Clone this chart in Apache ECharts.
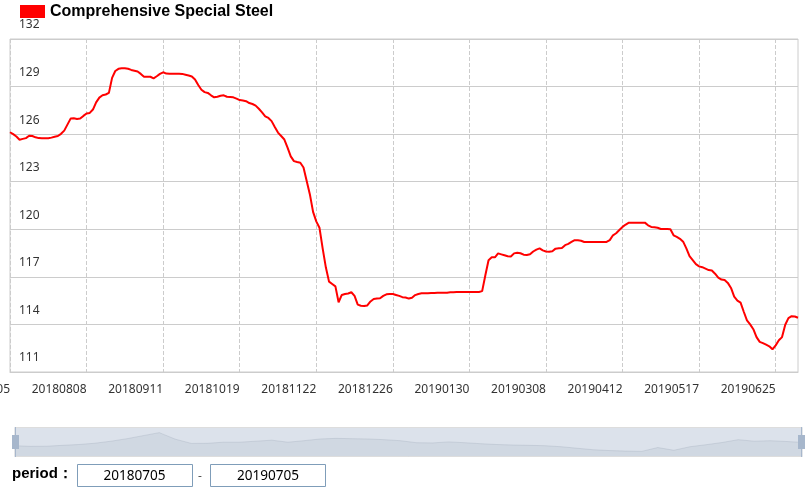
<!DOCTYPE html>
<html>
<head>
<meta charset="utf-8">
<script src="https://cdn.jsdelivr.net/npm/echarts@6/dist/echarts.min.js"></script>
<style>
html,body{margin:0;padding:0;background:#fff;}
#chart{width:807px;height:493px;}
</style>
</head>
<body>
<div id="chart"></div>
<script>
// ---- data ----
const seriesName = 'Comprehensive Special Steel';
const startDate = '20180705';
const periodStart = '20180705';
const periodEnd = '20190705';
// Chinese official working-day calendar used for the category labels
const holidays = ['20180924','20181001','20181002','20181003','20181004','20181005','20181231',
  '20190101','20190204','20190205','20190206','20190207','20190208','20190405',
  '20190501','20190502','20190503','20190607'];
const makeupWorkdays = ['20180929','20180930','20181229','20190202','20190203','20190428','20190505'];
const missingDates = ['20190603','20190604'];
const values = [
126.12,126.0,125.85,125.65,125.7,125.75,125.9,125.88,125.8,125.75,
125.74,125.74,125.74,125.78,125.84,125.88,126.02,126.22,126.6,126.98,
127.0,126.96,126.98,127.15,127.3,127.34,127.55,128.0,128.3,128.45,
128.5,128.6,129.55,129.98,130.12,130.15,130.15,130.12,130.05,130.0,
129.95,129.8,129.62,129.62,129.62,129.52,129.65,129.8,129.9,129.82,
129.81,129.81,129.81,129.81,129.8,129.75,129.7,129.64,129.45,129.1,
128.8,128.65,128.6,128.45,128.32,128.36,128.42,128.45,128.36,128.34,
128.32,128.24,128.15,128.12,128.08,127.96,127.9,127.8,127.6,127.37,
127.12,127.02,126.82,126.45,126.1,125.88,125.66,125.15,124.6,124.3,
124.24,124.2,123.9,123.05,122.2,121.1,120.5,120.1,118.8,117.6,
116.7,116.55,116.4,115.4,115.86,115.92,115.95,116.03,115.8,115.25,
115.18,115.16,115.2,115.45,115.6,115.63,115.65,115.8,115.9,115.92,
115.92,115.86,115.8,115.72,115.7,115.63,115.68,115.85,115.92,115.96,
115.97,115.97,115.98,115.98,115.99,116.0,116.0,116.0,116.03,116.03,
116.04,116.04,116.04,116.05,116.05,116.05,116.05,116.05,116.1,117.1,
118.05,118.23,118.23,118.48,118.42,118.36,118.3,118.28,118.48,118.52,
118.49,118.4,118.38,118.42,118.6,118.72,118.8,118.67,118.6,118.59,
118.62,118.78,118.8,118.82,119.0,119.08,119.2,119.31,119.31,119.28,
119.2,119.2,119.2,119.2,119.2,119.2,119.2,119.2,119.32,119.62,
119.75,119.95,120.15,120.3,120.42,120.42,120.42,120.42,120.42,120.42,
120.25,120.15,120.13,120.1,120.02,120.02,120.02,120.0,119.62,119.52,
119.4,119.22,118.8,118.3,118.05,117.8,117.66,117.61,117.52,117.43,
117.4,117.2,116.95,116.83,116.8,116.62,116.3,115.75,115.5,115.37,
114.8,114.25,114.0,113.7,113.2,112.9,112.82,112.72,112.62,112.43,
112.68,113.0,113.2,113.98,114.4,114.52,114.5,114.42
];
// overview curve shown as the slider's data shadow (relative units, read from the slider)
const overviewValues = [
12,11.4,11.5,12.4,13.2,14.5,16.5,19,22,25,
18.5,14.3,14.4,15.5,15.5,16.5,17.5,15.5,17,18.7,
19.3,19,18.7,18,17,15,14.8,15.8,15,14,
13.2,12.7,12.4,12,11,9.5,8,7.2,6.7,6.4,
10.2,7.5,11,13,15.2,18,16.5,17,16.2,15.3
];
const yMin = 111, yMax = 132, yStep = 3;
const labelEvery = 24;

function fmt(d){
  const y = d.getUTCFullYear(), m = d.getUTCMonth()+1, dd = d.getUTCDate();
  return '' + y + (m<10?'0':'') + m + (dd<10?'0':'') + dd;
}
function buildCategories(n){
  const out = [];
  const d = new Date(Date.UTC(+startDate.slice(0,4), +startDate.slice(4,6)-1, +startDate.slice(6,8)));
  while(out.length < n){
    const s = fmt(d);
    const dow = d.getUTCDay();
    const work = makeupWorkdays.includes(s) ||
      (dow !== 0 && dow !== 6 && !holidays.includes(s) && !missingDates.includes(s));
    if(work) out.push(s);
    d.setUTCDate(d.getUTCDate()+1);
  }
  return out;
}
const categories = buildCategories(values.length);
const overviewCategories = overviewValues.map((v, i) => String(i));

const chart = echarts.init(document.getElementById('chart'), null, {renderer:'canvas'});
const shadowArea = {color:'rgba(47,69,84,0.3)', opacity:0.3};
const shadowLine = {color:'#2f4554', opacity:0.3, width:0.5};
chart.setOption({
  animation:false,
  backgroundColor:'#fff',
  legend:{
    data:[seriesName], left:20, top:3.5, padding:0, icon:'rect', itemWidth:25, itemHeight:13,
    textStyle:{fontFamily:'Liberation Sans', fontWeight:'bold', fontSize:16, color:'#000'}
  },
  grid:{left:10, right:9, top:39, bottom:121, show:true, borderColor:'#ccc', borderWidth:1,
        containLabel:false, outerBoundsMode:'none'},
  xAxis:[{
    type:'category', show:false, boundaryGap:false, data:overviewCategories
  },{
    type:'category', boundaryGap:false, data:categories, position:'bottom',
    axisLine:{lineStyle:{color:'#ccc'}},
    axisTick:{show:false},
    axisLabel:{interval:labelEvery-1, align:'right', margin:12, color:'#333',
               fontFamily:'Noto Sans', fontSize:12},
    splitLine:{show:true, interval:labelEvery-1, lineStyle:{type:'dashed', color:'#ccc'}}
  }],
  yAxis:[{
    type:'value', min:yMin, max:yMax, interval:yStep,
    axisLine:{show:false}, axisTick:{show:false},
    axisLabel:{inside:true, margin:9, verticalAlign:'bottom', padding:[0,0,8,0], color:'#333',
               fontFamily:'Noto Sans', fontSize:12},
    splitLine:{lineStyle:{color:'#ccc'}}
  },{
    type:'value', show:false, scale:true, splitLine:{show:false}
  }],
  dataZoom:[{
    type:'slider', xAxisIndex:[0,1], start:0, end:100, left:12, right:7, top:427, height:30,
    showDetail:false, brushSelect:false, moveHandleSize:0, showDataShadow:true, filterMode:'none',
    borderColor:'#ddd', backgroundColor:'rgba(47,69,84,0)', fillerColor:'rgba(167,183,204,0.4)',
    dataBackground:{lineStyle:shadowLine, areaStyle:shadowArea},
    selectedDataBackground:{lineStyle:shadowLine, areaStyle:shadowArea},
    handleIcon:'path://M0,0L0.01,0L0.01,0.01Z M30,30L29.99,30L29.99,29.99Z M14.5,0h1v30h-1z M11.5,8h7v14h-7z',
    handleSize:'100%',
    handleStyle:{color:'#a7b7cc', borderColor:'#a7b7cc', borderWidth:0},
    textStyle:{color:'transparent'}
  }],
  series:[{
    name:'overview', type:'line', xAxisIndex:0, yAxisIndex:1, data:overviewValues,
    symbol:'none', silent:true, lineStyle:{opacity:0}, z:0, emphasis:{disabled:true}
  },{
    name:seriesName, type:'line', xAxisIndex:1, yAxisIndex:0, data:values, symbol:'none', showSymbol:false,
    lineStyle:{color:'#ff0000', width:2}, itemStyle:{color:'#ff0000'}
  }],
  graphic:[
    {type:'text', left:12, top:466, style:{text:'period：', fontFamily:'Liberation Sans', fontWeight:'bold', fontSize:15, fill:'#000'}},
    {type:'rect', shape:{x:77.5, y:464.5, width:115, height:22}, style:{fill:'#fff', stroke:'#7f9db9', lineWidth:1}},
    {type:'text', x:134.5, y:476, style:{text:periodStart, align:'center', verticalAlign:'middle', fontFamily:'Noto Sans', fontSize:13.6, fill:'#000'}},
    {type:'text', x:200, y:477, style:{text:'-', align:'center', verticalAlign:'middle', fontFamily:'Noto Sans', fontSize:12, fill:'#555'}},
    {type:'rect', shape:{x:210.5, y:464.5, width:115, height:22}, style:{fill:'#fff', stroke:'#7f9db9', lineWidth:1}},
    {type:'text', x:268, y:476, style:{text:periodEnd, align:'center', verticalAlign:'middle', fontFamily:'Noto Sans', fontSize:13.6, fill:'#000'}}
  ]
});
</script>
</body>
</html>
